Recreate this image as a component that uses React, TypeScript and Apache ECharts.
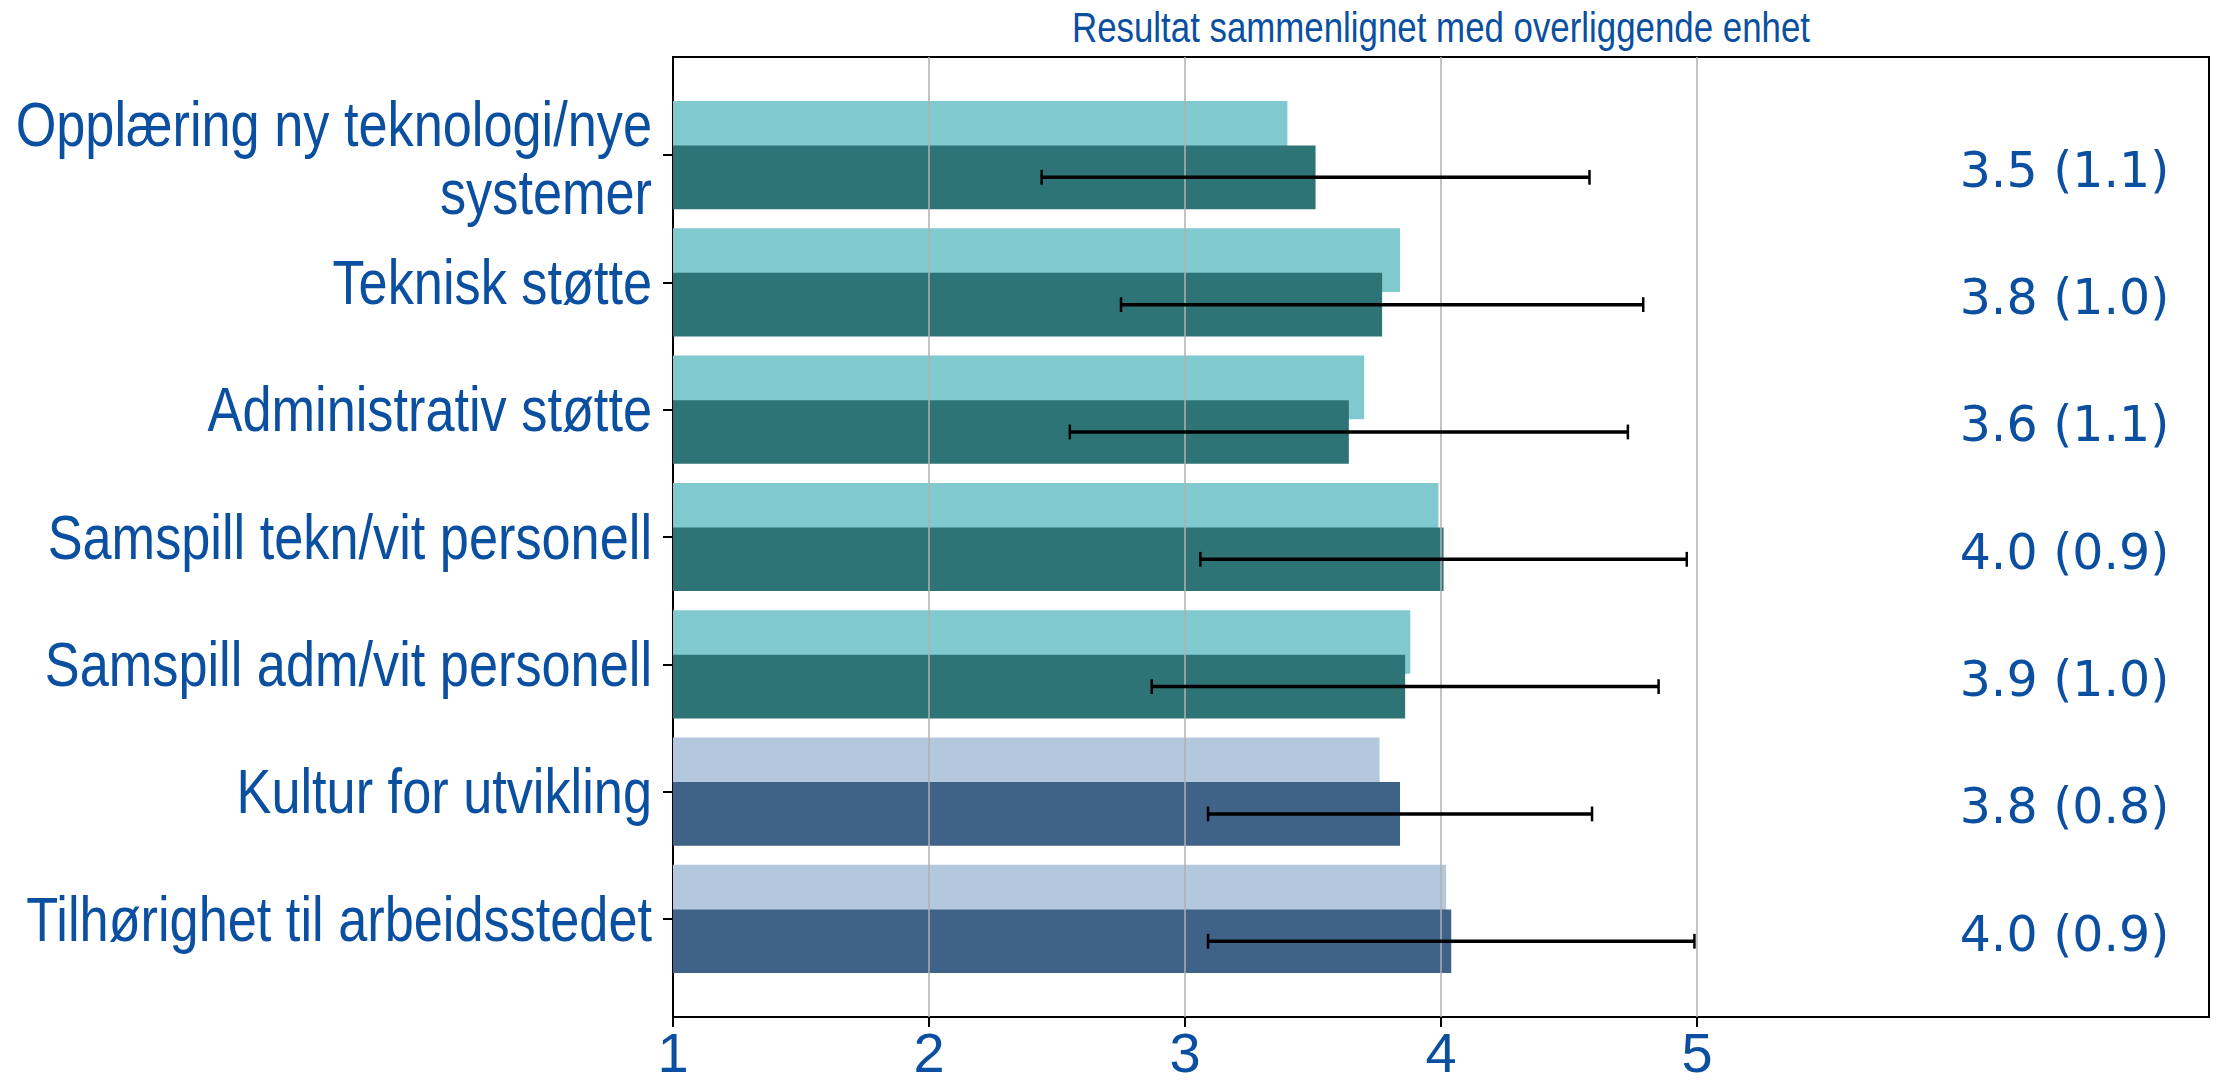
import React, { useEffect, useRef } from "react";
import * as echarts from "echarts";

const categories = [
  "Opplæring ny teknologi/nye\nsystemer",
  "Teknisk støtte",
  "Administrativ støtte",
  "Samspill tekn/vit personell",
  "Samspill adm/vit personell",
  "Kultur for utvikling",
  "Tilhørighet til arbeidsstedet",
];
const unitMeans = [3.51, 3.77, 3.64, 4.01, 3.86, 3.84, 4.04];
const unitSd = [1.07, 1.02, 1.09, 0.95, 0.99, 0.75, 0.95];
const parentMeans = [3.4, 3.84, 3.7, 3.99, 3.88, 3.76, 4.02];
const valueLabels = ["3.5 (1.1)", "3.8 (1.0)", "3.6 (1.1)", "4.0 (0.9)", "3.9 (1.0)", "3.8 (0.8)", "4.0 (0.9)"];
const rowGroups = ["a", "a", "a", "a", "a", "b", "b"];
const xTicks = [1, 2, 3, 4, 5];
const gridValues = [2, 3, 4, 5];
const titleText = "Resultat sammenlignet med overliggende enhet";

const lightColors: Record<string, string> = { a: "#80C9CE", b: "#B3C8DD" };
const darkColors: Record<string, string> = { a: "#2E7476", b: "#3F6288" };
const TEXT_BLUE = "#0B4FA0";
const SANS = "'Liberation Sans', Arial, sans-serif";
const NARROW_SCALE = 0.83;

const BAR_OFFSET = 0.175;
const BAR_HALF = 0.25;
const LABEL_X = 6.845;
const LABEL_DY = 0.12;
const CAP_HALF = 0.058;
const X_MIN = 1;

function barRender(offset: number, colors: Record<string, string>) {
  return (params: any, api: any) => {
    const idx = api.value(0);
    const val = api.value(1);
    const p0 = api.coord([0, idx + offset - BAR_HALF]);
    const p1 = api.coord([val, idx + offset + BAR_HALF]);
    const cs = params.coordSys;
    const shape = echarts.graphic.clipRectByRect(
      {
        x: p0[0],
        y: Math.min(p0[1], p1[1]),
        width: p1[0] - p0[0],
        height: Math.abs(p1[1] - p0[1]),
      },
      { x: cs.x, y: cs.y, width: cs.width, height: cs.height }
    );
    if (!shape) return null;
    return { type: "rect", shape, style: { fill: colors[rowGroups[idx]] } };
  };
}

export default function App() {
  const ref = useRef<HTMLDivElement>(null);
  useEffect(() => {
    document.body.style.margin = "0";
    const chart = echarts.init(ref.current!, null, { renderer: "svg" });
    const option: any = {
      animation: false,
      backgroundColor: "#ffffff",
      graphic: [
        {
          type: "text",
          x: 1441,
          y: 27,
          scaleX: NARROW_SCALE,
          style: {
            text: titleText,
            fill: TEXT_BLUE,
            fontFamily: SANS,
            fontSize: 42,
            align: "center",
            verticalAlign: "middle",
          },
        },
      ],
      grid: {
        left: 673,
        right: 8,
        top: 57,
        bottom: 67,
        show: true,
        borderColor: "#000",
        borderWidth: 2,
        containLabel: false,
        outerBoundsMode: "none",
      },
      xAxis: {
        type: "value",
        min: X_MIN,
        max: 7,
        axisLine: { show: true, onZero: false, lineStyle: { color: "#000", width: 2 } },
        axisTick: { show: true, customValues: xTicks, length: 10, lineStyle: { color: "#000", width: 2 } },
        axisLabel: {
          customValues: xTicks,
          margin: 35,
          verticalAlign: "middle",
          lineHeight: 50,
          fontFamily: SANS,
          fontSize: 56,
          color: TEXT_BLUE,
        },
        splitLine: { show: false },
      },
      yAxis: {
        type: "value",
        min: -0.77,
        max: 6.77,
        inverse: true,
        axisLine: { show: true, onZero: false, lineStyle: { color: "#000", width: 2 } },
        axisTick: {
          show: true,
          customValues: categories.map((_, i) => i),
          length: 10,
          lineStyle: { color: "#000", width: 2 },
        },
        axisLabel: { show: false },
        splitLine: { show: false },
      },
      series: [
        {
          type: "custom",
          name: "parent",
          z: 2,
          encode: { x: 1, y: 0 },
          data: parentMeans.map((v, i) => [i, v]),
          renderItem: barRender(-BAR_OFFSET, lightColors),
        },
        {
          type: "custom",
          name: "unit",
          z: 3,
          encode: { x: 1, y: 0 },
          data: unitMeans.map((v, i) => [i, v]),
          renderItem: barRender(BAR_OFFSET, darkColors),
        },
        {
          type: "line",
          name: "grid",
          z: 4,
          data: [],
          markLine: {
            silent: true,
            symbol: ["none", "none"],
            label: { show: false },
            lineStyle: { color: "#b0b0b0", width: 1.5, type: "solid" },
            data: gridValues.map((v) => ({ xAxis: v })),
          },
        },
        {
          type: "custom",
          name: "err",
          z: 5,
          encode: { x: 1, y: 0 },
          data: unitMeans.map((v, i) => [i, v, unitSd[i]]),
          renderItem: (params: any, api: any) => {
            const idx = api.value(0);
            const m = api.value(1);
            const sd = api.value(2);
            const y = idx + BAR_OFFSET;
            const a = api.coord([m - sd, y]);
            const b = api.coord([m + sd, y]);
            const a0 = api.coord([m - sd, y - CAP_HALF]);
            const a1 = api.coord([m - sd, y + CAP_HALF]);
            const b0 = api.coord([m + sd, y - CAP_HALF]);
            const b1 = api.coord([m + sd, y + CAP_HALF]);
            return {
              type: "group",
              children: [
                { type: "line", shape: { x1: a[0], y1: a[1], x2: b[0], y2: b[1] }, style: { stroke: "#000", lineWidth: 3.5 } },
                { type: "line", shape: { x1: a0[0], y1: a0[1], x2: a1[0], y2: a1[1] }, style: { stroke: "#000", lineWidth: 2.5 } },
                { type: "line", shape: { x1: b0[0], y1: b0[1], x2: b1[0], y2: b1[1] }, style: { stroke: "#000", lineWidth: 2.5 } },
              ],
            };
          },
        },
        {
          type: "custom",
          name: "categoryLabels",
          z: 6,
          clip: false,
          encode: { x: 1, y: 0 },
          data: categories.map((_, i) => [i, X_MIN]),
          renderItem: (params: any, api: any) => {
            const idx = api.value(0);
            const p = api.coord([api.value(1), idx]);
            const lines = categories[idx].split("\n").length;
            return {
              type: "text",
              x: p[0] - 21,
              y: p[1] + (lines > 1 ? 3 : 0),
              scaleX: NARROW_SCALE,
              style: {
                text: categories[idx],
                fill: TEXT_BLUE,
                fontFamily: SANS,
                fontSize: 63,
                lineHeight: 68,
                align: "right",
                verticalAlign: "middle",
              },
            };
          },
        },
        {
          type: "custom",
          name: "labels",
          z: 6,
          encode: { x: 1, y: 0 },
          data: valueLabels.map((_, i) => [i, LABEL_X]),
          renderItem: (params: any, api: any) => {
            const idx = api.value(0);
            const p = api.coord([api.value(1), idx + LABEL_DY]);
            return {
              type: "text",
              x: p[0],
              y: p[1],
              style: {
                text: valueLabels[idx],
                fill: TEXT_BLUE,
                fontFamily: "'DejaVu Sans', sans-serif",
                fontSize: 49,
                align: "right",
                verticalAlign: "middle",
              },
            };
          },
        },
      ],
    };
    chart.setOption(option);
    return () => chart.dispose();
  }, []);
  return <div ref={ref} style={{ width: 2217, height: 1084 }} />;
}
